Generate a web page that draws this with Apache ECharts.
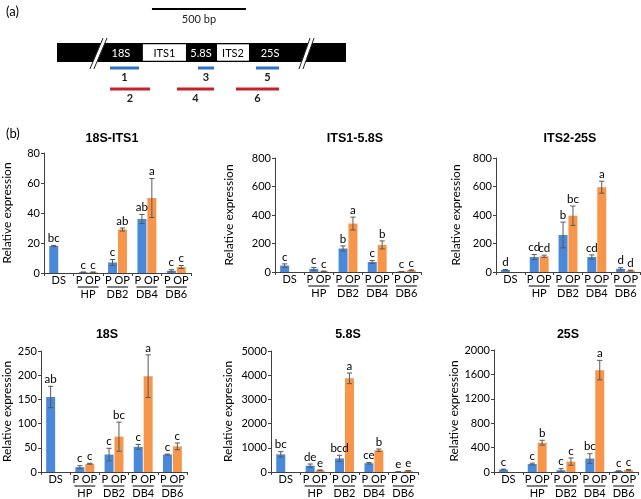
<!DOCTYPE html>
<html><head><meta charset="utf-8">
<script src="https://cdn.jsdelivr.net/npm/echarts@6/dist/echarts.min.js"></script>
<style>html,body{margin:0;padding:0;background:#fff}#c{width:641px;height:499px}</style>
</head><body><div id="c"></div>
<script>
// ---------- DATA ----------
const groups = ['DS', 'HP', 'DB2', 'DB4', 'DB6'];
const chartTitles = ['18S-ITS1', 'ITS1-5.8S', 'ITS2-25S', '18S', '5.8S', '25S'];
const yMax = [80, 800, 800, 250, 5000, 2000];
const yStep = [20, 200, 200, 50, 1000, 400];

// 18S-ITS1
const pA = [18, 0.5, 7, 36, 1.5];
const pAErr = [0.4, 0.2, 2, 3, 0.7];
const opA = [null, 0.5, 29, 50, 4];
const opAErr = [null, 0.2, 1, 13, 1];
const pASig = ['bc', 'c', 'c', 'ab', 'c'];
const opASig = ['', 'c', 'ab', 'a', 'c'];
// ITS1-5.8S
const pB = [45, 22, 165, 70, 3];
const pBErr = [12, 10, 18, 10, 1];
const opB = [null, 5, 340, 190, 12];
const opBErr = [null, 2, 45, 28, 3];
const pBSig = ['c', 'c', 'b', 'c', 'c'];
const opBSig = ['', 'c', 'a', 'b', 'c'];
// ITS2-25S
const pC = [15, 105, 260, 105, 22];
const pCErr = [3, 18, 90, 15, 8];
const opC = [null, 110, 395, 595, 10];
const opCErr = [null, 8, 68, 42, 3];
const pCSig = ['d', 'cd', 'b', 'cd', 'd'];
const opCSig = ['', 'cd', 'bc', 'a', 'd'];
// 18S
const pD = [155, 10, 36, 52, 36];
const pDErr = [22, 3, 13, 5, 1];
const opD = [null, 17, 73, 198, 53];
const opDErr = [null, 1, 30, 44, 7];
const pDSig = ['ab', 'c', 'c', 'c', 'c'];
const opDSig = ['', 'c', 'bc', 'a', 'c'];
// 5.8S
const pE = [730, 260, 560, 360, 10];
const pEErr = [110, 70, 130, 30, 3];
const opE = [null, 70, 3870, 900, 50];
const opEErr = [null, 15, 220, 50, 10];
const pESig = ['bc', 'de', 'bcd', 'ce', 'e'];
const opESig = ['', 'e', 'a', 'b', 'e'];
// 25S
const pF = [40, 130, 30, 220, 15];
const pFErr = [8, 15, 25, 80, 5];
const opF = [null, 480, 170, 1670, 30];
const opFErr = [null, 40, 60, 160, 10];
const pFSig = ['c', 'c', 'c', 'bc', 'c'];
const opFSig = ['', 'b', 'c', 'a', 'c'];

// schematic (bp from left end of drawn fragment)
const fragmentBp = 1537;
const regionNames = ['18S', 'ITS1', '5.8S', 'ITS2', '25S'];
const regionStart = [0, 457, 686, 851, 1021];
const regionEnd = [457, 686, 851, 1021, 1537];
const regionLabelBp = [340, 571, 766, 936, 1133];
const spacerRegions = ['ITS1', 'ITS2'];
const breakBottomBp = [175, 1287];
const breakTopBp = [245, 1346];
const primerNames = ['1', '2', '3', '4', '5', '6'];
const primerStart = [282, 282, 750, 638, 1058, 952];
const primerEnd = [436, 495, 835, 835, 1181, 1181];
const scaleBarBp = [505, 1005];
const scaleBarLabel = '500 bp';

// ---------- STYLE / LAYOUT ----------
const BLUE = '#4a88d9', ORANGE = '#f7964b', ERR = '#595959', AX = '#404040';
const PRIMER_BLUE = '#2a73c2', PRIMER_RED = '#c8202a';
const FONT = 'Lato, "Liberation Sans", sans-serif';
const BAR_W = 9, BAR_OFF = 4.95, CAP = 2.6;
const layouts = [
  {left: 44, top: 153, width: 147, height: 120, nameGap: 31, tx: 107, ty: 127},
  {left: 275, top: 158, width: 146, height: 114, nameGap: 40, tx: 350, ty: 127},
  {left: 496, top: 158, width: 144, height: 114, nameGap: 34, tx: 565, ty: 127},
  {left: 40, top: 351, width: 147, height: 122, nameGap: 28, tx: 102, ty: 323},
  {left: 271, top: 351, width: 147, height: 122, nameGap: 37, tx: 343, ty: 323},
  {left: 494, top: 350, width: 144, height: 123, nameGap: 32, tx: 563, ty: 323}
];
const sets = [
  [pA, pAErr, opA, opAErr, pASig, opASig],
  [pB, pBErr, opB, opBErr, pBSig, opBSig],
  [pC, pCErr, opC, opCErr, pCSig, opCSig],
  [pD, pDErr, opD, opDErr, pDSig, opDSig],
  [pE, pEErr, opE, opEErr, pESig, opESig],
  [pF, pFErr, opF, opFErr, pFSig, opFSig]
];

const grid = [], xAxis = [], yAxis = [], series = [], title = [];
title.push({text: '(a)', left: 1, top: 0, textStyle: {fontSize: 13, fontWeight: 'normal', color: '#000', fontFamily: FONT}});
title.push({text: '(b)', left: 1, top: 122, textStyle: {fontSize: 13, fontWeight: 'normal', color: '#000', fontFamily: FONT}});

sets.forEach((s, k) => {
  const L = layouts[k];
  grid.push({left: L.left, top: L.top, width: L.width, height: L.height});
  title.push({text: chartTitles[k], left: L.tx, top: L.ty, textAlign: 'center',
    textStyle: {fontSize: 12.5, fontWeight: 'bold', color: '#000', fontFamily: '"Liberation Sans", Arial, sans-serif'}});
  xAxis.push({type: 'category', gridIndex: k, data: groups,
    axisLine: {lineStyle: {color: AX, width: 1}},
    axisTick: {show: true, length: 3, lineStyle: {color: AX}},
    axisLabel: {interval: 0, margin: 2, color: '#000',
      formatter: (v, idx) => idx === 0 ? '{p|' + v + '}' : '{p|P OP}\n{u|}\n{n|' + v + '}',
      rich: {
        p: {fontSize: 11, fontFamily: FONT, lineHeight: 11, color: '#000'},
        u: {width: 21, height: 1, lineHeight: 2, backgroundColor: '#000'},
        n: {fontSize: 11, fontFamily: FONT, lineHeight: 13, color: '#000'}
      }}
  });
  yAxis.push({type: 'value', gridIndex: k, min: 0, max: yMax[k], interval: yStep[k],
    axisLine: {show: true, lineStyle: {color: AX, width: 1}},
    axisTick: {show: true, length: 3, lineStyle: {color: AX}},
    splitLine: {show: false},
    axisLabel: {fontSize: 11, fontFamily: FONT, color: '#000', margin: 4, formatter: v => String(v)},
    name: 'Relative expression', nameLocation: 'middle', nameGap: L.nameGap,
    nameTextStyle: {fontSize: 12, fontFamily: FONT, color: '#000'}
  });
  series.push({type: 'bar', xAxisIndex: k, yAxisIndex: k, data: s[0], barWidth: BAR_W, barGap: '10%',
    itemStyle: {color: BLUE}, silent: true});
  series.push({type: 'bar', xAxisIndex: k, yAxisIndex: k, data: s[2], barWidth: BAR_W, barGap: '10%',
    itemStyle: {color: ORANGE}, silent: true});
  const items = [];
  groups.forEach((g, i) => {
    items.push({i, v: s[0][i], e: s[1][i], sig: s[4][i], side: 0});
    if (s[2][i] != null) items.push({i, v: s[2][i], e: s[3][i], sig: s[5][i], side: 1});
  });
  series.push({type: 'custom', xAxisIndex: k, yAxisIndex: k, clip: false, z: 5, silent: true,
    data: items.map(it => [it.i, it.v, it.e]),
    renderItem: (params, api) => {
      const it = items[params.dataIndex];
      const x = api.coord([it.i, 0])[0] + (it.side === 0 ? -BAR_OFF : BAR_OFF);
      const yT = api.coord([it.i, it.v + it.e])[1];
      const yB = api.coord([it.i, Math.max(it.v - it.e, 0)])[1];
      const st = {stroke: ERR, lineWidth: 1};
      return {type: 'group', children: [
        {type: 'line', shape: {x1: x, y1: yT, x2: x, y2: yB}, style: st},
        {type: 'line', shape: {x1: x - CAP, y1: yT, x2: x + CAP, y2: yT}, style: st},
        {type: 'line', shape: {x1: x - CAP, y1: yB, x2: x + CAP, y2: yB}, style: st},
        {type: 'text', style: {text: it.sig, x: x, y: yT - 1, align: 'center', verticalAlign: 'bottom',
          font: '11.5px ' + FONT, fill: '#000'}}
      ]};
    }
  });
});

// ---------- schematic grid ----------
const D = 6;
grid.push({left: 57, top: 0, width: 289, height: 100});
xAxis.push({type: 'value', gridIndex: D, min: 0, max: fragmentBp, show: false});
yAxis.push({type: 'value', gridIndex: D, min: 0, max: 100, inverse: true, show: false});
const ROW = {barTop: 43, barBot: 62, brTop: 38, brBot: 69, scale: 9, scaleText: 14, blue: 68, blueText: 72, red: 89, redText: 93};

// blocks
series.push({type: 'custom', xAxisIndex: D, yAxisIndex: D, clip: false, silent: true,
  data: regionNames.map((n, i) => [regionStart[i], regionEnd[i]]),
  renderItem: (params, api) => {
    const i = params.dataIndex;
    const a = api.coord([regionStart[i], ROW.barTop]);
    const b = api.coord([regionEnd[i], ROW.barBot]);
    const spacer = spacerRegions.indexOf(regionNames[i]) >= 0;
    const ch = [{type: 'rect', shape: {x: a[0], y: a[1], width: b[0] - a[0], height: b[1] - a[1]}, style: {fill: '#000'}}];
    if (spacer) ch.push({type: 'rect', shape: {x: a[0], y: a[1] + 1.3, width: b[0] - a[0], height: b[1] - a[1] - 2.6}, style: {fill: '#fff'}});
    return {type: 'group', children: ch};
  }
});
// breaks
series.push({type: 'custom', xAxisIndex: D, yAxisIndex: D, clip: false, silent: true, z: 3,
  data: breakBottomBp.map((b, i) => [b, breakTopBp[i]]),
  renderItem: (params, api) => {
    const i = params.dataIndex;
    const p0 = api.coord([breakBottomBp[i], ROW.brBot]);
    const p1 = api.coord([breakTopBp[i], ROW.brTop]);
    const yb = api.coord([0, ROW.barBot])[1], yt = api.coord([0, ROW.barTop])[1];
    const xAt = y => p0[0] + (p1[0] - p0[0]) * (p0[1] - y) / (p0[1] - p1[1]);
    const off = 4;
    return {type: 'group', children: [
      {type: 'polygon', shape: {points: [[xAt(yb), yb], [xAt(yb) + off, yb], [xAt(yt) + off, yt], [xAt(yt), yt]]}, style: {fill: '#fff'}},
      {type: 'line', shape: {x1: p0[0], y1: p0[1], x2: p1[0], y2: p1[1]}, style: {stroke: '#222', lineWidth: 1}},
      {type: 'line', shape: {x1: p0[0] + off, y1: p0[1], x2: p1[0] + off, y2: p1[1]}, style: {stroke: '#222', lineWidth: 1}}
    ]};
  }
});
// region labels
series.push({type: 'custom', xAxisIndex: D, yAxisIndex: D, clip: false, silent: true, z: 4,
  data: regionNames.map((n, i) => [regionLabelBp[i], 0]),
  renderItem: (params, api) => {
    const i = params.dataIndex;
    const p = api.coord([regionLabelBp[i], (ROW.barTop + ROW.barBot) / 2]);
    const spacer = spacerRegions.indexOf(regionNames[i]) >= 0;
    return {type: 'text', style: {text: regionNames[i], x: p[0], y: p[1] + 0.5, align: 'center', verticalAlign: 'middle',
      font: '11px ' + FONT, fill: spacer ? '#000' : '#fff'}};
  }
});
// primers
series.push({type: 'custom', xAxisIndex: D, yAxisIndex: D, clip: false, silent: true,
  data: primerNames.map((n, i) => [primerStart[i], primerEnd[i]]),
  renderItem: (params, api) => {
    const i = params.dataIndex;
    const odd = i % 2 === 0;
    const row = odd ? ROW.blue : ROW.red, trow = odd ? ROW.blueText : ROW.redText;
    const a = api.coord([primerStart[i], row]), b = api.coord([primerEnd[i], row]);
    const t = api.coord([(primerStart[i] + primerEnd[i]) / 2, trow]);
    return {type: 'group', children: [
      {type: 'line', shape: {x1: a[0], y1: a[1], x2: b[0], y2: b[1]}, style: {stroke: odd ? PRIMER_BLUE : PRIMER_RED, lineWidth: 3}},
      {type: 'text', style: {text: primerNames[i], x: t[0], y: t[1], align: 'center', verticalAlign: 'top',
        font: 'bold 11px ' + FONT, fill: '#222'}}
    ]};
  }
});
// scale bar
series.push({type: 'custom', xAxisIndex: D, yAxisIndex: D, clip: false, silent: true,
  data: [scaleBarBp],
  renderItem: (params, api) => {
    const a = api.coord([scaleBarBp[0], ROW.scale]), b = api.coord([scaleBarBp[1], ROW.scale]);
    const t = api.coord([(scaleBarBp[0] + scaleBarBp[1]) / 2, ROW.scaleText]);
    return {type: 'group', children: [
      {type: 'line', shape: {x1: a[0], y1: a[1], x2: b[0], y2: b[1]}, style: {stroke: '#000', lineWidth: 2}},
      {type: 'text', style: {text: scaleBarLabel, x: t[0], y: t[1], align: 'center', verticalAlign: 'top',
        font: '11px ' + FONT, fill: '#222'}}
    ]};
  }
});

const chart = echarts.init(document.getElementById('c'), null, {renderer: 'canvas'});
chart.setOption({animation: false, backgroundColor: '#fff', title, grid, xAxis, yAxis, series});
</script></body></html>
